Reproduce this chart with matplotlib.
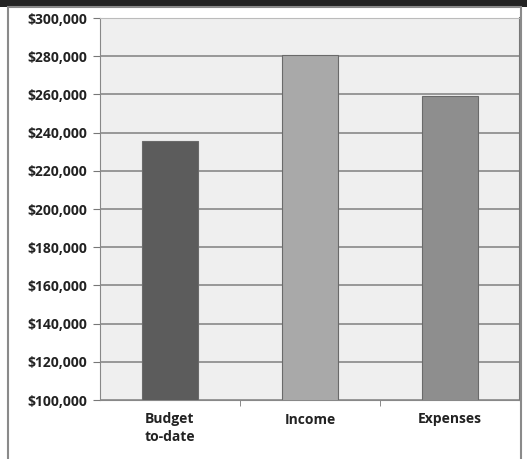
import numpy as np
import matplotlib.pyplot as plt
from matplotlib.patches import Rectangle

categories = ['Budget\nto-date', 'Income', 'Expenses']
values = [235500, 280500, 259000]
bar_colors = ['#5c5c5c', '#a9a9a9', '#8e8e8e']
yticks = list(range(100000, 300001, 20000))

W, H = 527, 459
fig = plt.figure(figsize=(W / 100, H / 100), dpi=100)
fig.patch.set_facecolor('white')

# dark strip on top and the grey frame
fig.add_artist(Rectangle((0, 1 - 7 / H), 1, 7 / H, transform=fig.transFigure,
                         facecolor='#232323', edgecolor='none'))
fig.add_artist(Rectangle((8 / W, -0.01), 513 / W, 1 - 7 / H + 0.01, transform=fig.transFigure,
                         facecolor='none', edgecolor='#8a8a8a', lw=1.5))

ax = fig.add_axes([100 / W, 1 - 400 / H, 420 / W, 382 / H])
ax.set_facecolor('#efefef')

x = np.arange(len(categories))
ax.bar(x, values, width=0.4, color=bar_colors, edgecolor='#6a6a6a', lw=0.8, zorder=3)

ax.set_ylim(100000, 300000)
ax.set_xlim(-0.5, 2.5)
ax.set_yticks(yticks)
ax.set_yticklabels(['${:,}'.format(v) for v in yticks])
ax.yaxis.grid(True, color='#808080', lw=1.1, zorder=1)

ax.set_xticks(x)
ax.set_xticklabels(categories, linespacing=1.3)
ax.set_xticks([0.5, 1.5], minor=True)
ax.tick_params(axis='x', which='major', length=0, pad=9)
ax.tick_params(axis='x', which='minor', length=4, color='#777777')
ax.tick_params(axis='y', length=5, color='#777777', pad=4)

for lab in ax.get_xticklabels() + ax.get_yticklabels():
    lab.set_fontfamily('Open Sans')
    lab.set_fontweight('bold')
    lab.set_fontsize(10)
    lab.set_color('#222222')

for s in ['top', 'right']:
    ax.spines[s].set_color('#bbbbbb')
for s in ['left', 'bottom']:
    ax.spines[s].set_color('#888888')
ax.spines['right'].set_color('#777777')
ax.spines['right'].set_linewidth(1.5)

fig.savefig('out.png', dpi=100)
